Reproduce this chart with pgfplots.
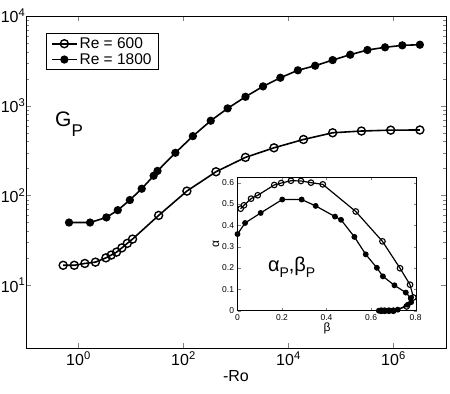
\documentclass[border=0pt]{standalone}
\usepackage{fontspec}
\setmainfont{Liberation Sans}
\usepackage{pgfplots}
\pgfplotsset{compat=1.18}
\usetikzlibrary{calc}

\pgfplotsset{
  legend image code/.code={\draw[mark repeat=2,mark phase=2,#1] plot coordinates {(0pt,0pt) (12.5pt,0pt) (25pt,0pt)};},
  resix/.style={black, line width=1.6pt, mark=o, mark size=4pt, mark options={solid, line width=1.4pt, fill=white}},
  reeighteen/.style={black, line width=1.6pt, mark=*, mark size=3.3pt, mark options={solid}},
}

\begin{document}
\begin{tikzpicture}
\begin{axis}[
  name=main,
  scale only axis, width=420pt, height=332pt,
  xmode=log, ymode=log,
  xmin=0.1, xmax=1e7, ymin=2, ymax=1e4,
  xtick={1,100,1e4,1e6},
  xticklabels={10\textsuperscript{0},10\textsuperscript{2},10\textsuperscript{4},10\textsuperscript{6}},
  ytick={10,100,1000,10000},
  yticklabels={10\textsuperscript{1},10\textsuperscript{2},10\textsuperscript{3},10\textsuperscript{4}},
  tick align=inside, xtick pos=both, ytick pos=both,
  xticklabel pos=bottom, yticklabel pos=left,
  major tick length=5pt, minor tick length=3pt,
  ticklabel style={font=\fontsize{16}{18}\selectfont},
  yticklabel style={inner xsep=0.5pt},
  xlabel={-Ro}, xlabel style={font=\fontsize{16}{18}\selectfont, yshift=2pt},
  axis line style={line width=0.8pt},
  legend cell align=left,
  legend style={at={(rel axis cs:0.047,0.948)}, anchor=north west,
    font=\fontsize{15.5}{17}\selectfont, draw=black, line width=0.6pt,
    inner xsep=5pt, inner ysep=2pt, row sep=-0.5pt},
]
\addplot[resix] coordinates {
(0.51,16.7) (0.83,16.7) (1.32,17.5) (2.1,18.1) (3.33,20.2) (4.2,21.7) (5.3,23.4)
(6.7,26.1) (8.5,29.3) (10.7,32.7) (33.6,60) (116,112) (416,184) (1515,266)
(5290,340) (19300,421) (69300,500) (245000,523) (885000,535) (3.18e6,537)
};
\addlegendentry{Re = 600}
\addplot[reeighteen] coordinates {
(0.66,50) (1.66,50) (3.4,57) (5.6,68.7) (9.5,89) (16,119) (27,166) (32,188)
(70,299) (151,459) (330,681) (693,935) (1515,1259) (3275,1644) (7000,2052)
(15070,2483) (32200,2793) (69300,3228) (150000,3706) (319000,4180)
(690000,4478) (1.47e6,4711) (3.18e6,4785)
};
\addlegendentry{Re = 1800}
\node[anchor=base west, inner sep=0pt] at (rel axis cs:0.069,0.666)
  {\fontsize{21}{24}\selectfont G\raisebox{-10pt}{\fontsize{17}{17}\selectfont P}};
\coordinate (bl) at (rel axis cs:0,0);
\coordinate (tr) at (rel axis cs:1,1);
\coordinate (insetpos) at (rel axis cs:0.5036,0.1123);
\end{axis}

\begin{axis}[
  at={(insetpos)}, anchor=south west,
  scale only axis, width=179.2pt, height=133.4pt,
  xmin=0, xmax=0.805, ymin=0, ymax=0.625,
  xtick={0,0.2,0.4,0.6,0.8}, ytick={0,0.1,0.2,0.3,0.4,0.5,0.6},
  /pgf/number format/assume math mode=true,
  tick align=inside, xtick pos=both, ytick pos=both,
  xticklabel pos=bottom, yticklabel pos=left,
  major tick length=3pt,
  ticklabel style={font=\fontsize{8.5}{10}\selectfont},
  xlabel={β}, ylabel={α},
  xlabel style={font=\fontsize{12}{13}\selectfont, yshift=4pt},
  ylabel style={font=\fontsize{12}{13}\selectfont, yshift=-4pt},
  axis line style={line width=0.7pt},
  axis background/.style={fill=white},
]
\addplot[black, line width=1.2pt, mark=o, mark size=2.8pt, mark options={line width=1.1pt, fill=white}] coordinates {
(0.014,0.478) (0.029,0.494) (0.061,0.525) (0.091,0.541) (0.165,0.589) (0.196,0.598)
(0.240,0.609) (0.285,0.608) (0.330,0.600) (0.383,0.592) (0.531,0.465) (0.651,0.325)
(0.730,0.199) (0.775,0.122) (0.790,0.062) (0.76,0.02) (0.70,0.0) (0.68,0) (0.66,0) (0.645,0)
};
\addplot[black, line width=1.2pt, mark=*, mark size=2.3pt] coordinates {
(0,0.359) (0.034,0.411) (0.104,0.458) (0.201,0.521) (0.288,0.521) (0.351,0.491)
(0.438,0.441) (0.465,0.426) (0.525,0.346) (0.576,0.264) (0.626,0.201) (0.653,0.161)
(0.705,0.119) (0.756,0.085) (0.778,0.059) (0.78,0.04) (0.765,0.028) (0.72,0.005)
(0.70,0) (0.68,0) (0.665,0) (0.65,0) (0.635,0)
};
\node[anchor=base west, inner sep=0pt] at (rel axis cs:0.169,0.292)
  {\fontsize{20}{22}\selectfont α\raisebox{-6pt}{\fontsize{14}{14}\selectfont P},β\raisebox{-6pt}{\fontsize{14}{14}\selectfont P}};
\end{axis}

\pgfresetboundingbox
\path ($(bl)+(-26pt,-45pt)$) rectangle ($(tr)+(4pt,16pt)$);
\end{tikzpicture}
\end{document}
